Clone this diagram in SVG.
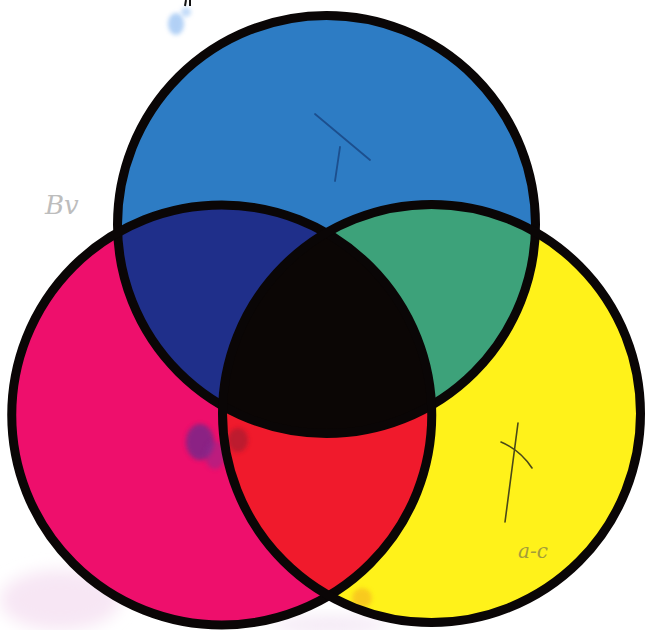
<svg xmlns="http://www.w3.org/2000/svg" width="647" height="630" viewBox="0 0 647 630">
  <style>
    .ring { fill: none; stroke: #0a0606; stroke-width: 9; }
    .pencil { font-family: "DejaVu Serif", "Liberation Serif", serif; font-style: italic; }
  </style>
  <defs>
    <clipPath id="clipT"><circle cx="326.5" cy="224.5" r="209"/></clipPath>
    <clipPath id="clipL"><circle cx="221.75" cy="415" r="210"/></clipPath>
    <clipPath id="clipR"><circle cx="431.5" cy="413.5" r="209"/></clipPath>
    <filter id="blur" x="-50%" y="-50%" width="200%" height="200%"><feGaussianBlur stdDeviation="8"/></filter>
    <filter id="blur2" x="-50%" y="-50%" width="200%" height="200%"><feGaussianBlur stdDeviation="2"/></filter>
  </defs>
  <rect width="647" height="630" fill="#ffffff"/>
  <!-- faint smudges outside -->
  <g id="smudges-outside">
    <ellipse cx="60" cy="600" rx="60" ry="30" fill="#f7e6f4" filter="url(#blur)"/>
    <ellipse cx="330" cy="625" rx="60" ry="8" fill="#f3e6f4" filter="url(#blur)"/>
    <ellipse cx="176" cy="24" rx="8" ry="11" fill="#7fb2f0" opacity="0.6" filter="url(#blur2)"/>
    <ellipse cx="186" cy="12" rx="5" ry="5" fill="#9cc4f4" opacity="0.6" filter="url(#blur2)"/>
  </g>
  <g id="top-circle">
    <circle cx="326.5" cy="224.5" r="209" fill="#2d7cc4"/>
  </g>
  <g id="left-circle">
    <circle cx="221.75" cy="415" r="210" fill="#ee0f6c"/>
  </g>
  <g id="right-circle">
    <circle cx="431.5" cy="413.5" r="209" fill="#fff21a"/>
  </g>
  <g id="top-left-overlap" clip-path="url(#clipT)">
    <circle cx="221.75" cy="415" r="210" fill="#1f2f8a"/>
  </g>
  <g id="top-right-overlap" clip-path="url(#clipT)">
    <circle cx="431.5" cy="413.5" r="209" fill="#3da27a"/>
  </g>
  <g id="left-right-overlap" clip-path="url(#clipL)">
    <circle cx="431.5" cy="413.5" r="209" fill="#f01a2c"/>
  </g>
  <g id="centre-overlap" clip-path="url(#clipT)">
    <g clip-path="url(#clipL)">
      <circle cx="431.5" cy="413.5" r="209" fill="#0b0605"/>
    </g>
  </g>
  <!-- smudges inside -->
  <g id="smudges-inside">
    <g clip-path="url(#clipL)">
      <ellipse cx="200" cy="442" rx="14" ry="18" fill="#6b2a8c" opacity="0.75" filter="url(#blur2)"/>
      <ellipse cx="215" cy="455" rx="10" ry="14" fill="#8a2a90" opacity="0.5" filter="url(#blur2)"/>
      <ellipse cx="238" cy="440" rx="10" ry="12" fill="#8a1a30" opacity="0.5" filter="url(#blur2)"/>
    </g>
    <ellipse cx="362" cy="598" rx="10" ry="10" fill="#f5b020" opacity="0.6" filter="url(#blur2)"/>
  </g>
  <g id="outlines">
    <circle class="ring" cx="326.5" cy="224.5" r="209"/>
    <circle class="ring" cx="221.75" cy="415" r="210"/>
    <circle class="ring" cx="431.5" cy="413.5" r="209"/>
  </g>
  <g id="marks">
    <path d="M315 114 L370 160 M340 147 L335 181" stroke="#1c4f8e" stroke-width="1.8" fill="none" stroke-linecap="round"/>
    <path d="M518 423 L505 522 M501 442 Q520 450 532 468" stroke="#4a4818" stroke-width="1.6" fill="none" stroke-linecap="round"/>
    <path d="M186 0 L185 6 M190 0 L190 6" stroke="#111" stroke-width="2" fill="none"/>
    <text class="pencil" x="45" y="214" font-size="26" fill="#bdbdbd">Bv</text>
    <text class="pencil" x="518" y="558" font-size="20" fill="#a49c3a">a-c</text>
  </g>
</svg>
